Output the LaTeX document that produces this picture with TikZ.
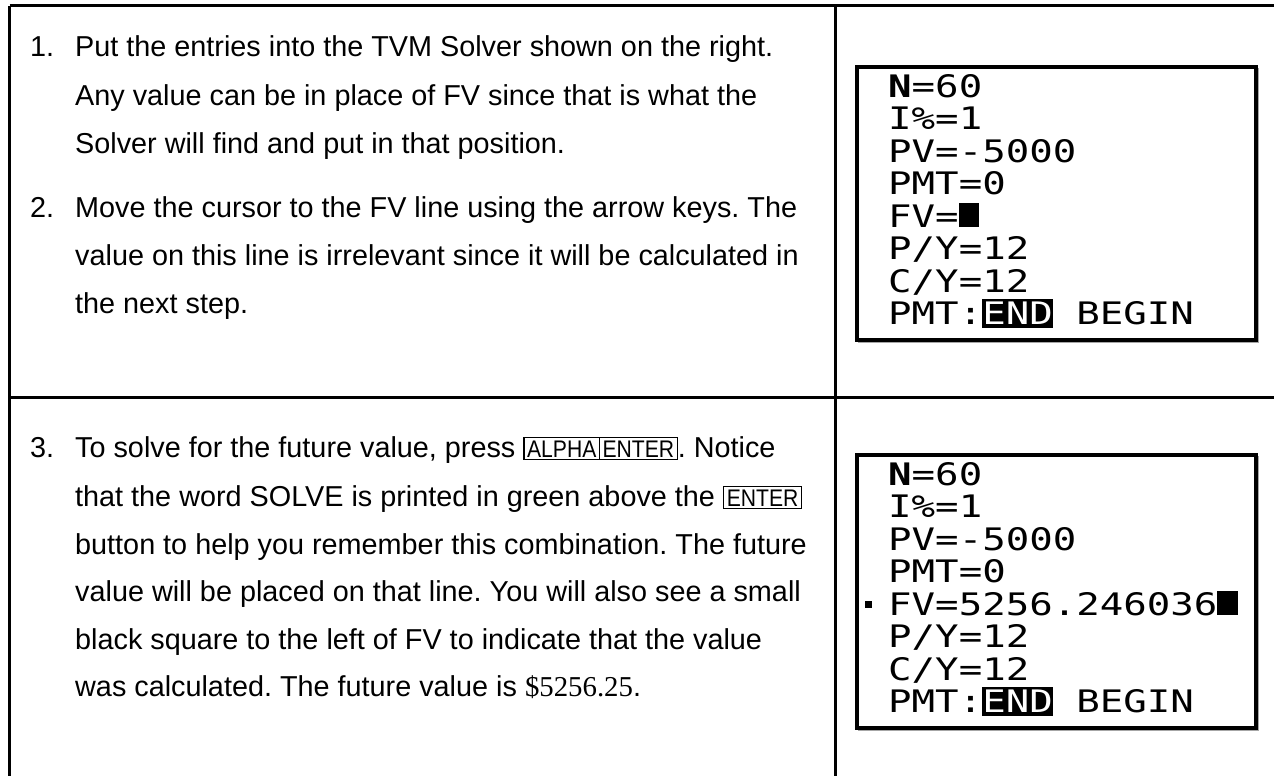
\documentclass[tikz,border=0pt]{standalone}
\usepackage{fontspec}
\setmainfont{Liberation Sans}
\newfontfamily\calcfont{DejaVu Sans Mono}
\newfontfamily\dollarfont{Liberation Serif}
\frenchspacing
\newcommand{\keycap}[1]{{\setlength{\fboxsep}{2pt}\setlength{\fboxrule}{1.2pt}\fbox{\hspace{0.5pt}\scalebox{0.88}[1]{\fontsize{24}{24}\selectfont #1}\hspace{0.5pt}}}}
\newcommand{\scr}[1]{\scalebox{1.26}[1]{#1}}
\begin{document}
\begin{tikzpicture}[x=1pt,y=-1pt,
  rule/.style={line width=3pt,black},
  body/.style={anchor=base west,inner sep=0pt,font=\fontsize{28.8}{28.8}\selectfont},
  screen/.style={line width=4pt,draw=black,fill=white},
  shadow/.style={line width=1.5pt,draw=black!35},
  scrtxt/.style={anchor=base west,inner sep=0pt,font=\calcfont\fontsize{31}{31}\selectfont}]
\useasboundingbox (0,0) rectangle (1274,776);
% table rules
\coordinate (tl) at (9.5,6);
\coordinate (tr) at (1274,6);
\coordinate (bl) at (9.5,776);
\coordinate (mt) at (835,6);
\coordinate (mb) at (835,776);
\coordinate (hl) at (9.5,397);
\coordinate (hr) at (1274,397);
\draw[rule] (tl) -- (tr);
\draw[rule] (tl) -- (bl);
\draw[rule] (mt) -- (mb);
\draw[rule] (hl) -- (hr);
% row 1 text
\node[body] (n1) at (30,57) {1.};
\node[body] (t1a) at (75,57) {Put the entries into the TVM Solver shown on the right.};
\node[body] (t1b) at (75,105) {Any value can be in place of FV since that is what the};
\node[body] (t1c) at (75,153) {Solver will find and put in that position.};
\node[body] (n2) at (30,217) {2.};
\node[body] (t2a) at (75,217) {Move the cursor to the FV line using the arrow keys. The};
\node[body] (t2b) at (75,265) {value on this line is irrelevant since it will be calculated in};
\node[body] (t2c) at (75,313) {the next step.};
% row 2 text
\node[body] (n3) at (30,457) {3.};
\node[body] (t3a) at (75,457) {To solve for the future value, press \keycap{ALPHA}\hspace{-1.2pt}\keycap{ENTER}. Notice};
\node[body] (t3b) at (75,506) {that the word SOLVE is printed in green above the \keycap{ENTER}};
\node[body] (t3c) at (75,554) {button to help you remember this combination. The future};
\node[body] (t3d) at (75,601) {value will be placed on that line. You will also see a small};
\node[body] (t3e) at (75,649) {black square to the left of FV to indicate that the value};
\node[body] (t3f) at (75,696) {was calculated. The future value is {\dollarfont\$5256.25}.};
% screen 1
\draw[shadow] (859,69) rectangle (1258.5,342.5);
\draw[screen] (857,67) rectangle (1256,340);
\node[scrtxt] (s1a) at (888,97) {\scr{\textbf{N}=60}};
\node[scrtxt] (s1b) at (888,129.5) {\scr{I\%=1}};
\node[scrtxt] (s1c) at (888,162) {\scr{PV=-5000}};
\node[scrtxt] (s1d) at (888,194.5) {\scr{PMT=0}};
\node[scrtxt] (s1e) at (888,227) {\scr{FV=\rule{16pt}{24pt}}};
\node[scrtxt] (s1f) at (888,259.5) {\scr{P/Y=12}};
\node[scrtxt] (s1g) at (888,292) {\scr{C/Y=12}};
\node[scrtxt] (s1h) at (888,324.5) {\scr{PMT:\colorbox{black}{\hspace{-3pt}\textcolor{white}{END}\hspace{-3pt}} BEGIN}};
% screen 2
\draw[shadow] (859,457) rectangle (1258.5,730.5);
\draw[screen] (857,455) rectangle (1256,728);
\node[scrtxt] (s2a) at (888,485) {\scr{\textbf{N}=60}};
\node[scrtxt] (s2b) at (888,517.5) {\scr{I\%=1}};
\node[scrtxt] (s2c) at (888,550) {\scr{PV=-5000}};
\node[scrtxt] (s2d) at (888,582.5) {\scr{PMT=0}};
\node[fill=black,inner sep=0pt,minimum size=7pt] (sq) at (868,604) {};
\node[scrtxt] (s2e) at (888,615) {\scr{FV=5256.246036\rule{16pt}{24pt}}};
\node[scrtxt] (s2f) at (888,647.5) {\scr{P/Y=12}};
\node[scrtxt] (s2g) at (888,680) {\scr{C/Y=12}};
\node[scrtxt] (s2h) at (888,712.5) {\scr{PMT:\colorbox{black}{\hspace{-3pt}\textcolor{white}{END}\hspace{-3pt}} BEGIN}};
\end{tikzpicture}
\end{document}
